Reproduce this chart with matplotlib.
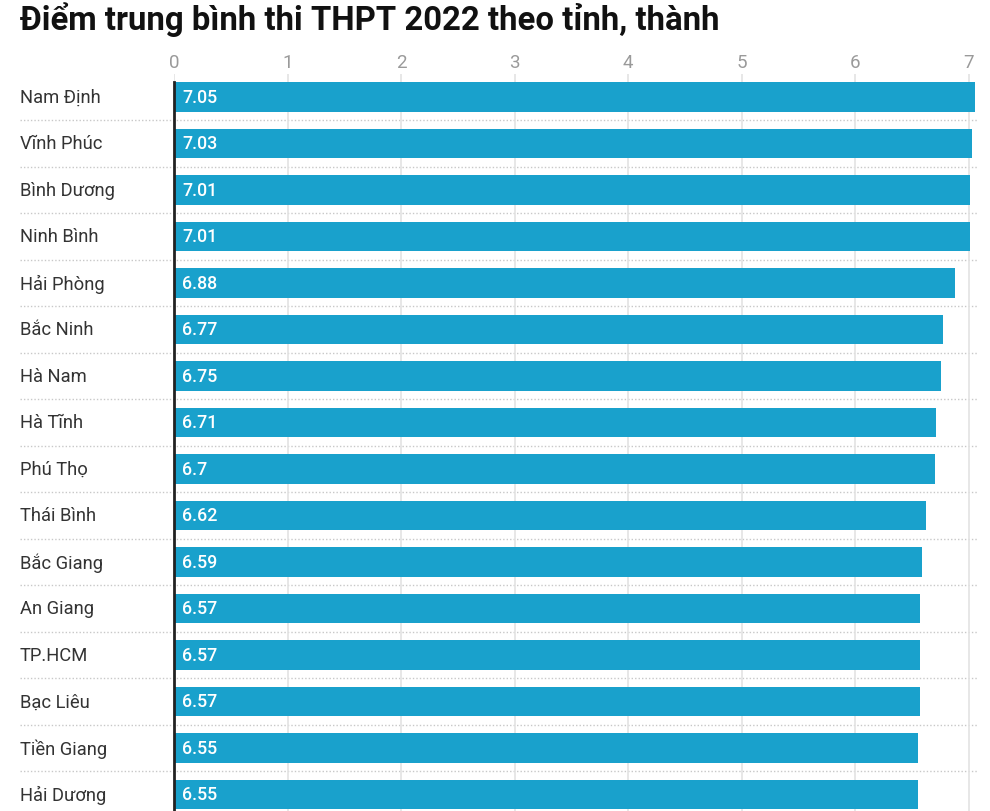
import matplotlib.pyplot as plt
from matplotlib.transforms import blended_transform_factory

# Dữ liệu
provinces = ["Nam Định", "Vĩnh Phúc", "Bình Dương", "Ninh Bình", "Hải Phòng",
             "Bắc Ninh", "Hà Nam", "Hà Tĩnh", "Phú Thọ", "Thái Bình",
             "Bắc Giang", "An Giang", "TP.HCM", "Bạc Liêu", "Tiền Giang",
             "Hải Dương"]
scores = [7.05, 7.03, 7.01, 7.01, 6.88, 6.77, 6.75, 6.71, 6.7, 6.62,
          6.59, 6.57, 6.57, 6.57, 6.55, 6.55]
value_labels = ["7.05", "7.03", "7.01", "7.01", "6.88", "6.77", "6.75", "6.71",
                "6.7", "6.62", "6.59", "6.57", "6.57", "6.57", "6.55", "6.55"]
ticks = [0, 1, 2, 3, 4, 5, 6, 7]

plt.rcParams['font.family'] = ['Roboto', 'DejaVu Sans']

W, H = 990, 812
fig = plt.figure(figsize=(W / 100, H / 100), dpi=100)

# trục: x=0 ở 174px, x=7 ở 969px ; hàng 0 ở 98px, bước 46.5px
px_unit = (969 - 174) / 7
row = 46.5
y0 = 98
top_px = 75
ax = fig.add_axes([174 / W, 0, 1 - 174 / W, (H - top_px) / H])
ax.set_xlim(0, (W - 174) / px_unit)
ax.set_ylim((H - y0) / row, -(y0 - top_px) / row)

y = list(range(len(provinces)))
ax.barh(y, scores, height=0.63, color="#19a1cc", zorder=2)

for i, lab in enumerate(value_labels):
    ax.text(0.07, i, lab, color="white", fontsize=12.8, fontweight="medium",
            va="center", ha="left", zorder=3)

ax.set_xticks(ticks)
ax.xaxis.tick_top()
ax.tick_params(axis="x", length=0, pad=2, labelsize=13.5, labelcolor="#9a9a9a")
ax.set_yticks([])
ax.grid(axis="x", color="#e3e3e3", linewidth=1.2, zorder=0)
for s in ax.spines.values():
    s.set_visible(False)

# đường đen tại 0
ax.plot([0, 0], [-0.315, len(provinces) + 1], color="#222222", linewidth=2,
        zorder=4, clip_on=False)

# nhãn tỉnh và đường chấm phân cách
tr = blended_transform_factory(fig.transFigure, ax.transData)
for i, name in enumerate(provinces):
    fig.text(20 / W, i, name, transform=tr, fontsize=13.2, color="#333333",
             va="center", ha="left")
    ax.plot([20 / W, 977 / W], [i + 0.5, i + 0.5], transform=tr,
            color="#c8c8c8", linewidth=1, linestyle=(0, (1, 1.5)),
            clip_on=False, zorder=1)

fig.text(20 / W, 1 - 20 / H, "Điểm trung bình thi THPT 2022 theo tỉnh, thành",
         fontsize=23.7, fontweight="bold", color="#111111", va="center", ha="left")

fig.savefig("out.png", dpi=100)
